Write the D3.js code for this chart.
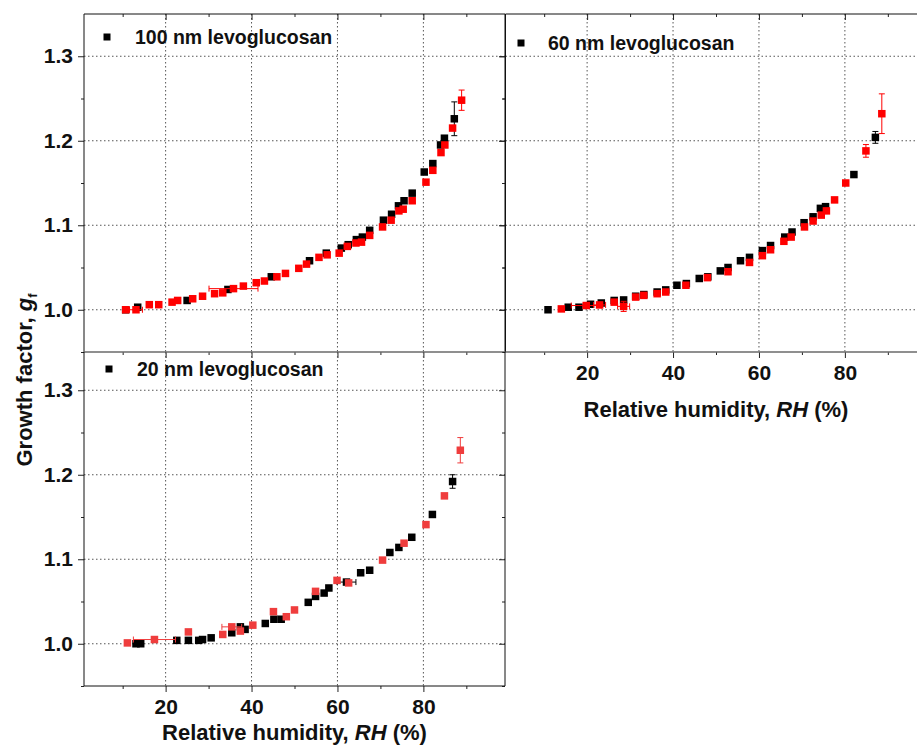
<!DOCTYPE html>
<html>
<head>
<meta charset="utf-8">
<script src="https://cdn.jsdelivr.net/npm/d3@7"></script>
<style>
  body { margin: 0; background: #fff; }
  text { font-family: "Liberation Sans", Arial, sans-serif; font-weight: bold; fill: #111; }
</style>
</head>
<body>
<svg id="chart"></svg>
<script>
// tick values
var xMajor = [20, 40, 60, 80];
var xMinor = [10, 30, 50, 70, 90];
var yMajor = [1.0, 1.1, 1.2, 1.3];
var yMinor = [0.95, 1.05, 1.15, 1.25];

// 100 nm levoglucosan
var rh100Black = [10.7, 13.5, 25.0, 34.5, 44.6, 53.5, 57.4, 60.9, 62.5, 64.4, 65.8, 67.5, 70.7, 72.6, 74.2, 75.5, 77.4, 80.2, 82.2, 84.0, 84.9, 87.2];
var gf100Black = [1.000, 1.003, 1.011, 1.024, 1.039, 1.058, 1.067, 1.073, 1.077, 1.083, 1.086, 1.094, 1.106, 1.113, 1.123, 1.129, 1.138, 1.163, 1.173, 1.195, 1.203, 1.226];
var rh100Red = [10.7, 13.1, 16.2, 18.4, 21.5, 22.8, 26.3, 28.6, 31.4, 33.3, 35.8, 38.1, 41.1, 43.0, 45.9, 47.9, 51.0, 52.8, 55.7, 57.6, 60.4, 62.3, 64.3, 65.6, 67.5, 70.5, 72.5, 74.3, 75.3, 77.4, 80.6, 82.2, 84.1, 85.0, 86.8, 88.9];
var gf100Red = [1.000, 1.000, 1.006, 1.006, 1.009, 1.011, 1.013, 1.016, 1.019, 1.020, 1.025, 1.028, 1.032, 1.034, 1.039, 1.043, 1.049, 1.054, 1.062, 1.065, 1.067, 1.075, 1.079, 1.080, 1.088, 1.098, 1.106, 1.117, 1.119, 1.129, 1.151, 1.165, 1.186, 1.195, 1.215, 1.248];
// error bars: [rh, gf, xerr, yerr]
var err100Black = [[87.2, 1.226, 0, 0.020]];
var err100Red = [[13.1, 1.000, 1.5, 0], [35.8, 1.025, 5.7, 0], [88.9, 1.248, 0, 0.012]];

// 60 nm levoglucosan
var rh60Black = [10.9, 15.6, 18.1, 20.8, 23.3, 26.3, 28.5, 31.3, 33.2, 36.3, 38.3, 40.9, 43.1, 46.1, 48.1, 51.0, 52.8, 55.7, 57.8, 60.8, 62.7, 66.0, 67.7, 70.5, 72.6, 74.3, 75.5, 82.1, 87.1];
var gf60Black = [1.000, 1.003, 1.003, 1.0065, 1.008, 1.011, 1.0116, 1.016, 1.018, 1.021, 1.0235, 1.029, 1.031, 1.037, 1.039, 1.046, 1.050, 1.058, 1.062, 1.070, 1.076, 1.086, 1.092, 1.103, 1.110, 1.120, 1.122, 1.160, 1.204];
var rh60Red = [14.0, 19.8, 22.9, 26.3, 28.5, 31.3, 33.2, 36.3, 38.3, 43.0, 48.0, 52.8, 57.8, 60.8, 62.7, 65.8, 67.5, 70.6, 72.6, 74.5, 75.7, 77.6, 80.2, 84.9, 88.6];
var gf60Red = [1.001, 1.005, 1.0057, 1.009, 1.004, 1.015, 1.017, 1.019, 1.021, 1.029, 1.038, 1.045, 1.056, 1.064, 1.071, 1.081, 1.086, 1.098, 1.105, 1.112, 1.117, 1.130, 1.150, 1.188, 1.232];
var err60Black = [[87.1, 1.204, 0, 0.007]];
var err60Red = [[14.0, 1.001, 0, 0.002], [19.8, 1.005, 3.5, 0], [22.9, 1.0057, 1.4, 0], [28.5, 1.004, 1.4, 0.006], [84.9, 1.188, 0, 0.0075], [88.6, 1.232, 0, 0.0235]];

// 20 nm levoglucosan
var rh20Black = [13.1, 14.2, 22.6, 25.3, 27.7, 28.6, 30.6, 35.4, 37.4, 38.5, 43.2, 45.2, 46.9, 53.2, 54.9, 56.9, 58.0, 62.1, 65.4, 67.5, 72.2, 74.3, 77.3, 82.1, 86.8];
var gf20Black = [1.000, 1.000, 1.004, 1.004, 1.004, 1.005, 1.007, 1.013, 1.020, 1.017, 1.024, 1.029, 1.029, 1.049, 1.056, 1.060, 1.066, 1.073, 1.084, 1.087, 1.108, 1.114, 1.126, 1.153, 1.192];
var rh20Red = [11.1, 17.4, 25.3, 33.3, 35.4, 37.4, 40.3, 45.1, 48.1, 50.0, 54.9, 59.9, 62.6, 70.5, 75.5, 80.6, 84.9, 88.6];
var gf20Red = [1.001, 1.005, 1.014, 1.011, 1.020, 1.015, 1.022, 1.038, 1.032, 1.040, 1.062, 1.075, 1.072, 1.099, 1.119, 1.141, 1.175, 1.229];
var err20Black = [[13.1, 1.000, 0, 0.003], [62.1, 1.073, 2.2, 0], [86.8, 1.192, 0, 0.008]];
var err20Red = [[17.4, 1.005, 4.9, 0], [35.4, 1.020, 2.3, 0], [88.6, 1.229, 0, 0.015]];

var W = 917, H = 749;
var svg = d3.select("#chart").attr("width", W).attr("height", H);

function zip(a, b) { return a.map(function(d, i) { return [d, b[i]]; }); }

var panels = [
  {label: "100 nm levoglucosan", left: 84, top: 14, bottom: 352, red: "#ff0000",
   black: zip(rh100Black, gf100Black), redPts: zip(rh100Red, gf100Red), errB: err100Black, errR: err100Red,
   legend: [107, 37, 135, 44], yLabels: true, xLabels: false, grayBottom: true},
  {label: "60 nm levoglucosan", left: 505.5, top: 14, bottom: 352, red: "#ff0000",
   black: zip(rh60Black, gf60Black), redPts: zip(rh60Red, gf60Red), errB: err60Black, errR: err60Red,
   legend: [521, 43, 548, 50], yLabels: false, xLabels: true, grayBottom: true},
  {label: "20 nm levoglucosan", left: 84, top: 348, bottom: 686, red: "#ef3d3d",
   black: zip(rh20Black, gf20Black), redPts: zip(rh20Red, gf20Red), errB: err20Black, errR: err20Red,
   legend: [109, 369, 137, 376], yLabels: true, xLabels: true, grayBottom: false}
];

var pw = 421, sq = 7.5;

panels.forEach(function(p) {
  var x = d3.scaleLinear().domain([1, 99]).range([p.left, p.left + pw]);
  var y = d3.scaleLinear().domain([0.95, 1.35]).range([p.bottom, p.top]);
  var top = Math.max(p.top, p === panels[2] ? 352 : p.top);
  var g = svg.append("g");

  // grid
  g.selectAll(".gx").data(xMajor).enter().append("line")
    .attr("x1", function(d) { return x(d); }).attr("x2", function(d) { return x(d); })
    .attr("y1", top).attr("y2", p.bottom)
    .attr("stroke", "#555").attr("stroke-width", 1).attr("stroke-dasharray", "1.5,2.5");
  g.selectAll(".gy").data(yMajor).enter().append("line")
    .attr("x1", p.left).attr("x2", p.left + pw)
    .attr("y1", function(d) { return y(d); }).attr("y2", function(d) { return y(d); })
    .attr("stroke", "#555").attr("stroke-width", 1).attr("stroke-dasharray", "1.5,2.5");

  // axes: left/bottom outward, right/top inward
  function clean(a) { a.select(".domain").remove(); a.selectAll(".tick line").attr("stroke", "#222"); }
  var fmt = d3.format(".1f");
  g.append("g").attr("transform", "translate(" + p.left + ",0)")
    .call(d3.axisLeft(y).tickValues(yMajor).tickSize(6).tickPadding(5).tickFormat(p.yLabels ? fmt : ""))
    .call(clean).selectAll("text").style("font-size", "21px");
  g.append("g").attr("transform", "translate(" + p.left + ",0)")
    .call(d3.axisLeft(y).tickValues(yMinor).tickSize(3).tickFormat("")).call(clean);
  g.append("g").attr("transform", "translate(" + (p.left + pw) + ",0)")
    .call(d3.axisRight(y).tickValues(yMajor).tickSize(-6).tickFormat("")).call(clean);
  g.append("g").attr("transform", "translate(" + (p.left + pw) + ",0)")
    .call(d3.axisRight(y).tickValues(yMinor).tickSize(-3).tickFormat("")).call(clean);
  g.append("g").attr("transform", "translate(0," + p.bottom + ")")
    .call(d3.axisBottom(x).tickValues(xMajor).tickSize(6).tickPadding(7).tickFormat(p.xLabels ? d3.format("d") : ""))
    .call(clean).selectAll("text").style("font-size", "21px");
  g.append("g").attr("transform", "translate(0," + p.bottom + ")")
    .call(d3.axisBottom(x).tickValues(xMinor).tickSize(3).tickFormat("")).call(clean);
  if (p !== panels[2]) {
    g.append("g").attr("transform", "translate(0," + p.top + ")")
      .call(d3.axisTop(x).tickValues(xMajor).tickSize(-6).tickFormat("")).call(clean);
    g.append("g").attr("transform", "translate(0," + p.top + ")")
      .call(d3.axisTop(x).tickValues(xMinor).tickSize(-3).tickFormat("")).call(clean);
  }

  // frame
  g.append("line").attr("x1", p.left).attr("x2", p.left).attr("y1", top).attr("y2", p.bottom).attr("stroke", "#111");
  g.append("line").attr("x1", p.left + pw).attr("x2", p.left + pw).attr("y1", top).attr("y2", p.bottom).attr("stroke", "#111");
  if (p !== panels[2])
    g.append("line").attr("x1", p.left).attr("x2", p.left + pw).attr("y1", p.top).attr("y2", p.top).attr("stroke", "#111");

  // error bars + points
  function drawSeries(pts, errs, col, ecol) {
    errs.forEach(function(e) {
      var cx = x(e[0]), cy = y(e[1]);
      if (e[2] > 0) {
        var xa = x(e[0] - e[2]), xb = x(e[0] + e[2]);
        g.append("line").attr("x1", xa).attr("x2", xb).attr("y1", cy).attr("y2", cy).attr("stroke", ecol);
        [xa, xb].forEach(function(xx) {
          g.append("line").attr("x1", xx).attr("x2", xx).attr("y1", cy - 3).attr("y2", cy + 3).attr("stroke", ecol);
        });
      }
      if (e[3] > 0) {
        var ya = y(e[1] - e[3]), yb = y(e[1] + e[3]);
        g.append("line").attr("x1", cx).attr("x2", cx).attr("y1", ya).attr("y2", yb).attr("stroke", ecol);
        [ya, yb].forEach(function(yy) {
          g.append("line").attr("x1", cx - 3).attr("x2", cx + 3).attr("y1", yy).attr("y2", yy).attr("stroke", ecol);
        });
      }
    });
    g.selectAll(null).data(pts).enter().append("rect")
      .attr("x", function(d) { return x(d[0]) - sq / 2; })
      .attr("y", function(d) { return y(d[1]) - sq / 2; })
      .attr("width", sq).attr("height", sq)
      .attr("fill", col);
  }
  drawSeries(p.black, p.errB, "#000", "#000");
  drawSeries(p.redPts, p.errR, p.red, p.red);

  // legend
  g.append("rect").attr("x", p.legend[0] - 3.5).attr("y", p.legend[1] - 3.5)
    .attr("width", 7).attr("height", 7).attr("fill", "#000");
  g.append("text").attr("x", p.legend[2]).attr("y", p.legend[3])
    .style("font-size", "19.5px").text(p.label);

  // x title
  if (p.xLabels) {
    var t = g.append("text").attr("x", p.left + pw / 2).attr("y", p.bottom + (p === panels[2] ? 54 : 65))
      .attr("text-anchor", "middle").style("font-size", "22px");
    t.append("tspan").text("Relative humidity, ");
    t.append("tspan").style("font-style", "italic").text("RH");
    t.append("tspan").text(" (%)");
  }

  // gray bottom axis line for top row
  if (p.grayBottom)
    g.append("line").attr("x1", p.left).attr("x2", p.left + pw).attr("y1", p.bottom).attr("y2", p.bottom)
      .attr("stroke", "#6a6a6a").attr("stroke-width", 1.6);
  else
    g.append("line").attr("x1", p.left).attr("x2", p.left + pw).attr("y1", p.bottom).attr("y2", p.bottom)
      .attr("stroke", "#111");
});

// y title
var yt = svg.append("text").attr("transform", "translate(32,380) rotate(-90)")
  .attr("text-anchor", "middle").style("font-size", "22px");
yt.append("tspan").text("Growth factor, ");
yt.append("tspan").style("font-style", "italic").text("g");
yt.append("tspan").style("font-size", "13px").attr("dy", 5).text("f");
</script>
</body>
</html>
